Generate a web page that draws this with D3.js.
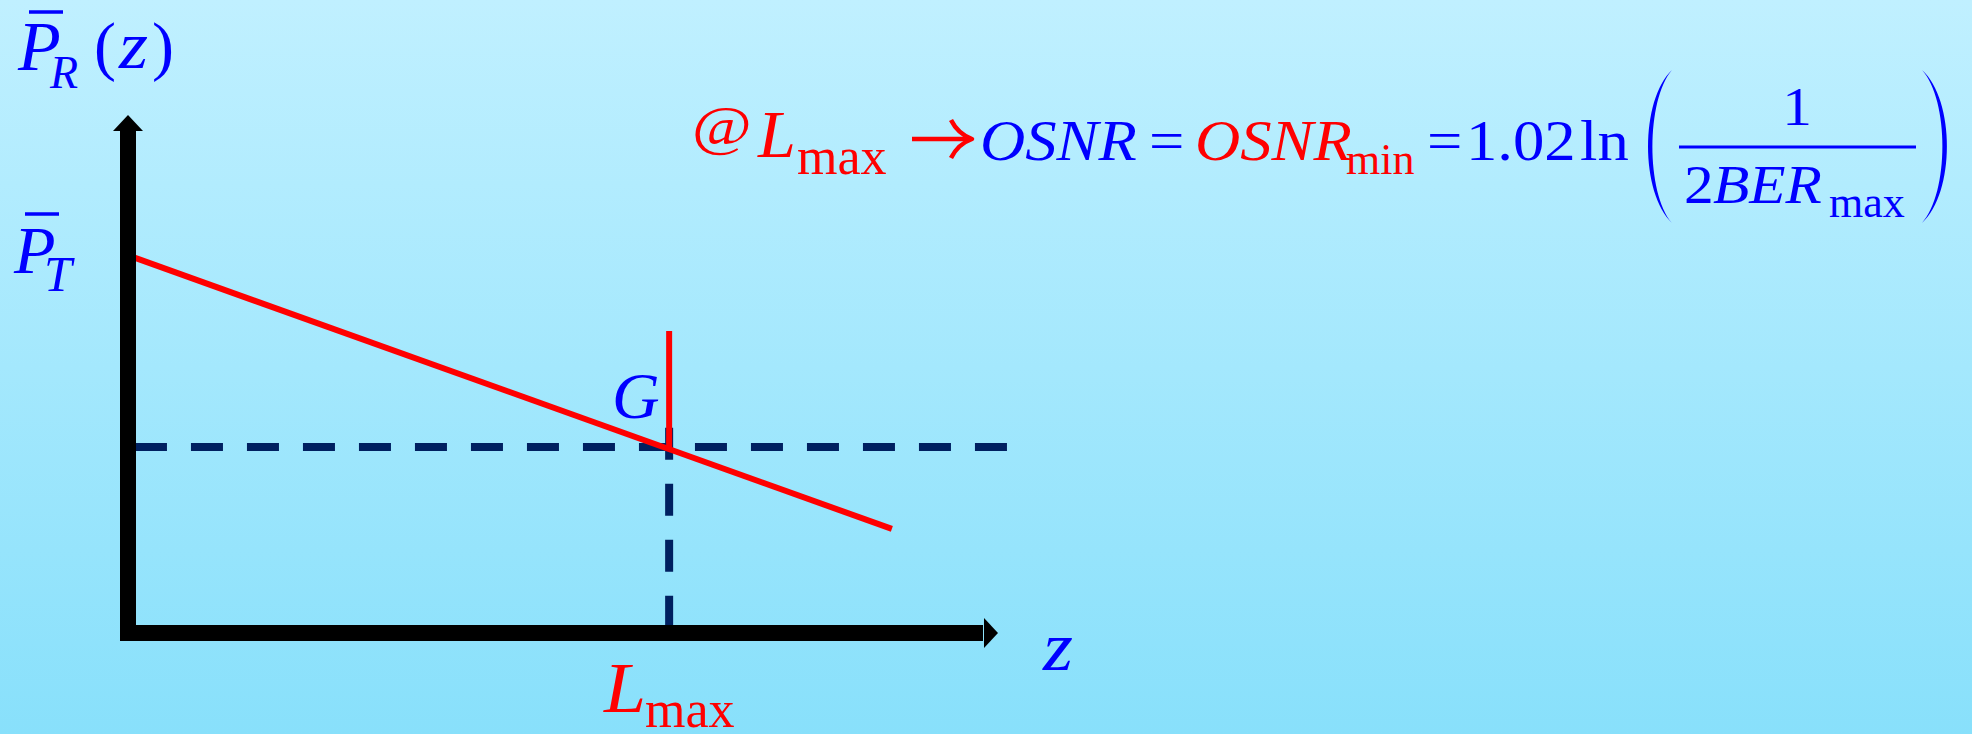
<!DOCTYPE html>
<html>
<head>
<meta charset="utf-8">
<script src="https://cdn.jsdelivr.net/npm/d3@7"></script>
<style>
html, body { margin: 0; padding: 0; overflow: hidden; }
</style>
</head>
<body>
<div id="chart"></div>
<script>
// axis extents (data units, arrow tips)
var axisZ = [0, 100];
var axisP = [0, 100];
// received power vs distance
var powerLine = [{z: 0.5, p: 72.6}, {z: 87.8, p: 20.1}];
// operating point G at L_max
var gPoint = {z: 62.2, p: 35.9};
var gMarkTop = 58.3;
// dashed guides
var hDash = [0.8, 101.1];
var vDash = [1.0, 39.6];

// text pieces
var yLabel = ['P', 'R', '(', 'z', ')'];
var ptLabel = ['P', 'T'];
var zLabel = 'z';
var gLabel = 'G';
var lmaxLabel = ['L', 'max'];
var eqLeft = ['@', 'L', 'max'];
var eqMid = ['OSNR', '=', 'OSNR', 'min', '=', '1.02', 'ln'];
var eqFrac = ['1', '2', 'BER', 'max'];

var W = 1972, H = 734;
var BLUE = '#0000ff', RED = '#ff0000', NAVY = '#002060';
var FONT = '"Liberation Serif", "Times New Roman", serif';

var svg = d3.select('#chart').append('svg')
    .attr('width', W)
    .attr('height', H);

var defs = svg.append('defs');
var grad = defs.append('linearGradient')
    .attr('id', 'bg')
    .attr('x1', 0).attr('y1', 0).attr('x2', 0).attr('y2', 1);
grad.append('stop').attr('offset', '0%').attr('stop-color', '#c0f0ff');
grad.append('stop').attr('offset', '100%').attr('stop-color', '#88e0fb');

svg.append('rect')
    .attr('width', W).attr('height', H)
    .attr('fill', 'url(#bg)');

var x = d3.scaleLinear().domain([0, 100]).range([128, 998]);
var y = d3.scaleLinear().domain([0, 100]).range([633, 115]);

// dashed guides
svg.append('line')
    .attr('x1', x(hDash[0])).attr('x2', x(hDash[1]))
    .attr('y1', y(gPoint.p)).attr('y2', y(gPoint.p))
    .attr('stroke', NAVY).attr('stroke-width', 8)
    .attr('stroke-dasharray', '32,24');
svg.append('line')
    .attr('x1', x(gPoint.z)).attr('x2', x(gPoint.z))
    .attr('y1', y(vDash[1])).attr('y2', y(vDash[0]))
    .attr('stroke', NAVY).attr('stroke-width', 8)
    .attr('stroke-dasharray', '32,24');

// power line
var line = d3.line()
    .x(function (d) { return x(d.z); })
    .y(function (d) { return y(d.p); });
svg.append('path')
    .attr('d', line(powerLine))
    .attr('stroke', RED).attr('stroke-width', 6)
    .attr('fill', 'none');

// red mark at G
svg.append('line')
    .attr('x1', x(gPoint.z)).attr('x2', x(gPoint.z))
    .attr('y1', y(gMarkTop)).attr('y2', y(gPoint.p))
    .attr('stroke', RED).attr('stroke-width', 6);

// axes with arrow heads
var head = 15;
svg.append('path')
    .attr('d', 'M' + x(0) + ',' + (y(axisP[1]) + head) +
        'L' + x(0) + ',' + y(0) +
        'L' + (x(axisZ[1]) - head) + ',' + y(0))
    .attr('stroke', '#000').attr('stroke-width', 16)
    .attr('stroke-linejoin', 'miter')
    .attr('fill', 'none');
svg.append('path')
    .attr('d', 'M' + x(0) + ',' + y(axisP[1]) +
        'L' + (x(0) + 15) + ',' + (y(axisP[1]) + 16) +
        'L' + (x(0) - 15) + ',' + (y(axisP[1]) + 16) + 'Z')
    .attr('fill', '#000');
svg.append('path')
    .attr('d', 'M' + x(axisZ[1]) + ',' + y(0) +
        'L' + (x(axisZ[1]) - 14) + ',' + (y(0) - 15) +
        'L' + (x(axisZ[1]) - 14) + ',' + (y(0) + 15) + 'Z')
    .attr('fill', '#000');

function txt(s, px, py, size, color, italic, sx, anchor) {
    return svg.append('text')
        .attr('transform', 'translate(' + px + ',' + py + ') scale(' + (sx || 1) + ',1)')
        .attr('font-family', FONT)
        .attr('font-size', size + 'px')
        .attr('font-style', italic ? 'italic' : 'normal')
        .attr('fill', color)
        .attr('text-anchor', anchor || 'start')
        .text(s);
}
function bar(x1, x2, py, w) {
    svg.append('line')
        .attr('x1', x1).attr('x2', x2)
        .attr('y1', py).attr('y2', py)
        .attr('stroke', BLUE).attr('stroke-width', w);
}

// y axis label  P̄_R(z)
txt(yLabel[0], 18, 70, 70, BLUE, true);
bar(29, 63, 12, 3.5);
txt(yLabel[1], 50, 88, 46, BLUE, true);
txt(yLabel[2], 94, 68, 66, BLUE, false);
txt(yLabel[3], 119, 68, 68, BLUE, true, 1.1);
txt(yLabel[4], 152, 68, 66, BLUE, false);

// P̄_T
txt(ptLabel[0], 14, 273, 68, BLUE, true);
bar(25, 59, 214, 3.5);
txt(ptLabel[1], 44, 291, 50, BLUE, true);

// G
txt(gLabel, 612, 418, 66, BLUE, true);

// L_max on the z axis
txt(lmaxLabel[0], 604, 712, 72, RED, true, 1.05);
txt(lmaxLabel[1], 645, 727, 52, RED, false);

// z
txt(zLabel, 1043, 670, 70, BLUE, true, 1.1);

// equation
var SX = 1.1;
txt(eqLeft[0], 692, 144, 54, RED, false, 1.2);
txt(eqLeft[1], 758, 157, 68, RED, true);
txt(eqLeft[2], 797, 174, 52, RED, false);

// arrow
svg.append('path')
    .attr('d', 'M912,139 L968,139')
    .attr('stroke', RED).attr('stroke-width', 4.5).attr('fill', 'none');
svg.append('path')
    .attr('d', 'M951,120 Q958,134 972,139 Q958,144 951,158')
    .attr('stroke', RED).attr('stroke-width', 4.5).attr('fill', 'none')
    .attr('stroke-linejoin', 'round');

txt(eqMid[0], 980, 160, 57, BLUE, true, SX);
txt(eqMid[1], 1149, 160, 57, BLUE, false, SX);
txt(eqMid[2], 1195, 160, 57, RED, true, SX);
txt(eqMid[3], 1346, 174, 44, RED, false);
txt(eqMid[4], 1427, 160, 57, BLUE, false, SX);
txt(eqMid[5], 1466, 160, 57, BLUE, false, SX);
txt(eqMid[6], 1580, 160, 57, BLUE, false, SX);

// big parentheses
function paren(xe, xm, top, bot, t) {
    var c = (xm - 0.25 * xe) / 0.75;
    var ci = c + (xm < xe ? t : -t) / 0.75;
    var d = 'M' + xe + ',' + top +
        'C' + c + ',' + (top + 30) + ' ' + c + ',' + (bot - 30) + ' ' + xe + ',' + bot +
        'C' + ci + ',' + (bot - 30) + ' ' + ci + ',' + (top + 30) + ' ' + xe + ',' + top + 'Z';
    svg.append('path').attr('d', d).attr('fill', BLUE);
}
paren(1672, 1648, 70, 223, 4.5);
paren(1922, 1947, 70, 223, 4.5);

// fraction
txt(eqFrac[0], 1797, 125, 54, BLUE, false, SX, 'middle');
bar(1679, 1916, 147, 3);
txt(eqFrac[1], 1684, 203, 54, BLUE, false, SX);
txt(eqFrac[2], 1713, 203, 54, BLUE, true, SX);
txt(eqFrac[3], 1829, 217, 44, BLUE, false);
</script>
</body>
</html>
